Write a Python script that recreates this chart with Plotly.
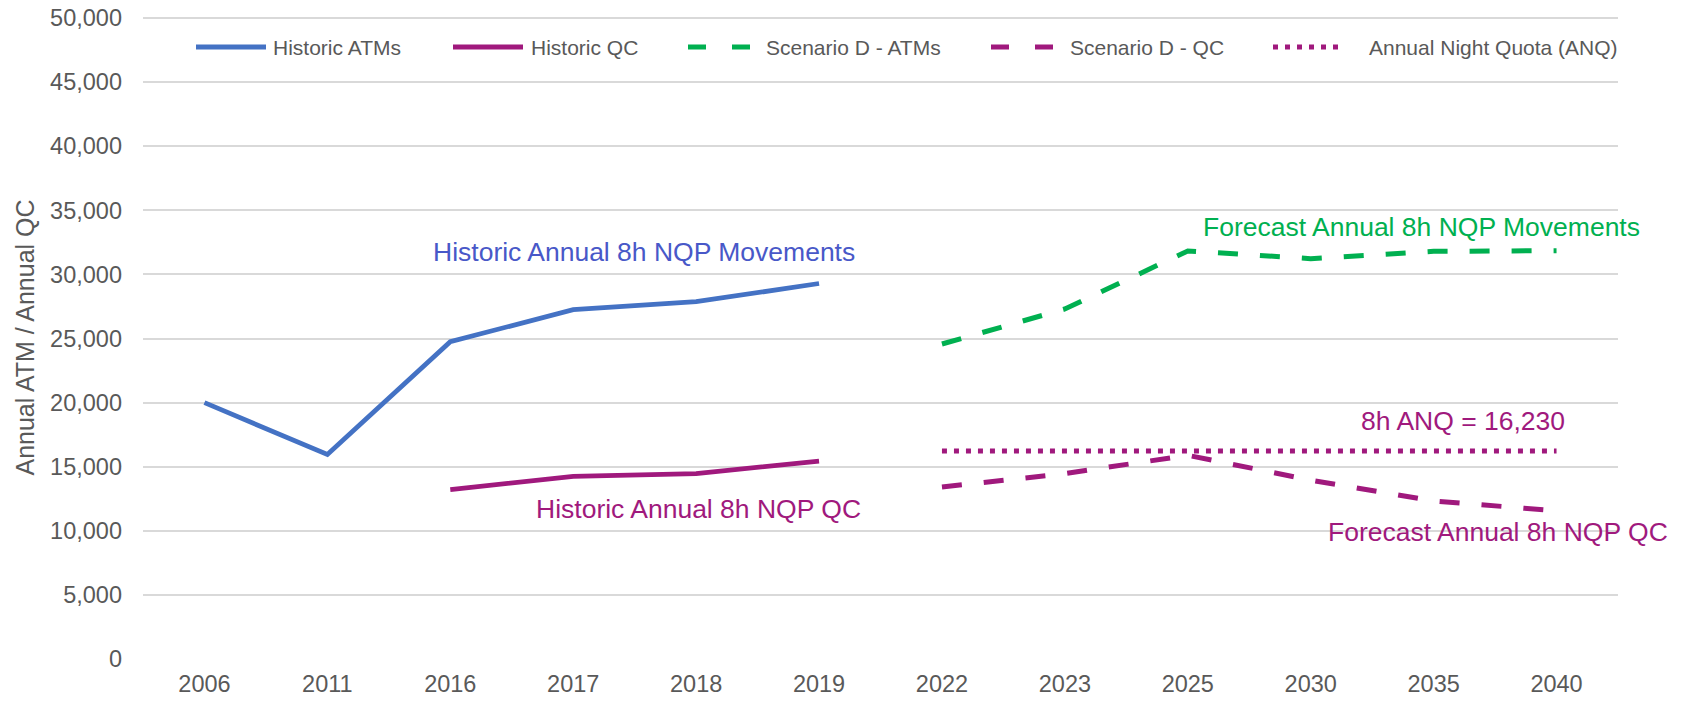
import plotly.graph_objects as go

categories = ["2006", "2011", "2016", "2017", "2018", "2019",
              "2022", "2023", "2025", "2030", "2035", "2040"]
historic_atms = [20000, 15950, 24750, 27250, 27870, 29290,
                 None, None, None, None, None, None]
historic_qc = [None, None, 13220, 14250, 14460, 15440,
               None, None, None, None, None, None]
scenario_d_atms = [None, None, None, None, None, None,
                   24570, 27300, 31830, 31230, 31800, 31850]
scenario_d_qc = [None, None, None, None, None, None,
                 13420, 14460, 15890, 13950, 12330, 11560]
anq = [None, None, None, None, None, None,
       16230, 16230, 16230, 16230, 16230, 16230]

BLUE = "#4472C4"
BLUE_TXT = "#4858C8"
PURPLE = "#A0197D"
GREEN = "#00B050"
GRAY = "#595959"
FONT = "Liberation Sans, Arial, sans-serif"

fig = go.Figure()
fig.add_trace(go.Scatter(x=categories, y=historic_atms, mode="lines", name="Historic ATMs",
                         line=dict(color=BLUE, width=4.8)))
fig.add_trace(go.Scatter(x=categories, y=historic_qc, mode="lines", name="Historic QC",
                         line=dict(color=PURPLE, width=4.8)))
fig.add_trace(go.Scatter(x=categories, y=scenario_d_atms, mode="lines", name="Scenario D - ATMs",
                         line=dict(color=GREEN, width=5, dash="20px,22px")))
fig.add_trace(go.Scatter(x=categories, y=scenario_d_qc, mode="lines", name="Scenario D - QC",
                         line=dict(color=PURPLE, width=5, dash="20px,22px")))
fig.add_trace(go.Scatter(x=categories, y=anq, mode="lines", name="Annual Night Quota (ANQ)",
                         line=dict(color=PURPLE, width=5, dash="5px,7px")))

# Body margin is removed in the page, so the figure starts at (0, 0).
FIG_W, FIG_H = 1688, 704
PLOT_L, PLOT_R, PLOT_T, PLOT_B = 143, 1618, 16, 659
L = PLOT_L
R = FIG_W - PLOT_R
T = PLOT_T
B = FIG_H - PLOT_B
PW = PLOT_R - PLOT_L
PH = PLOT_B - PLOT_T
Y_MAX = 50000 * PH / (PH - 2)   # keeps the 50,000 grid line 2px inside the plot

def px_x(p):
    return (p - PLOT_L) / PW

def px_y(p):
    return (PLOT_B - p) / PH

legend_items = [
    ("Historic ATMs", BLUE, "solid", 4.8, 196, 266, 271),
    ("Historic QC", PURPLE, "solid", 4.8, 453, 523, 529),
    ("Scenario D - ATMs", GREEN, "18px,26px", 5, 688, 753, 764),
    ("Scenario D - QC", PURPLE, "18px,26px", 5, 991, 1056, 1068),
    ("Annual Night Quota (ANQ)", PURPLE, "5px,7px", 5, 1273, 1339, 1367),
]
ly = px_y(47)
for name, col, dash, w, x0, x1, tx in legend_items:
    fig.add_shape(type="line", xref="paper", yref="paper",
                  x0=px_x(x0), x1=px_x(x1), y0=ly, y1=ly,
                  line=dict(color=col, width=w, dash=dash))
    fig.add_annotation(xref="paper", yref="paper", x=px_x(tx), y=ly,
                       text=name, showarrow=False, xanchor="left", yanchor="middle",
                       font=dict(family=FONT, size=21, color=GRAY))

labels = [
    ("Historic Annual 8h NQP Movements", BLUE_TXT, 644, 252),
    ("Historic Annual 8h NQP QC", PURPLE, 698, 509),
    ("Forecast Annual 8h NQP Movements", GREEN, 1421, 227),
    ("8h ANQ = 16,230", PURPLE, 1463, 421),
    ("Forecast Annual 8h NQP QC", PURPLE, 1498, 532),
]
for text, col, cx, cy in labels:
    fig.add_annotation(xref="paper", yref="paper", x=px_x(cx), y=px_y(cy),
                       text=text, showarrow=False, xanchor="center", yanchor="middle",
                       font=dict(family=FONT, size=26.5, color=col))

fig.update_layout(
    width=FIG_W, height=FIG_H,
    margin=dict(l=L, r=R, t=T, b=B),
    plot_bgcolor="white", paper_bgcolor="white",
    showlegend=False,
    font=dict(family=FONT, size=23.5, color=GRAY),
    xaxis=dict(type="category", categoryorder="array", categoryarray=categories,
               range=[-0.5, 11.5], showgrid=False, showline=False, zeroline=False,
               ticks="", automargin=False, ticklabelstandoff=8,
               ticklabeloverflow="allow",
               tickfont=dict(size=23.5, color=GRAY)),
    yaxis=dict(range=[0, Y_MAX], tick0=0, dtick=5000, tickformat=",", showgrid=True,
               gridcolor="#D9D9D9", gridwidth=2, zeroline=False, showline=False,
               ticks="", automargin=False, ticklabelstandoff=20,
               ticklabeloverflow="allow",
               tickfont=dict(size=23.5, color=GRAY),
               title=dict(text="Annual ATM / Annual QC", font=dict(size=25, color=GRAY),
                          standoff=8)),
)

fig.write_html("out.html", config={"displayModeBar": False},
               post_script="document.body.style.margin='0';document.documentElement.style.overflow='hidden';")
